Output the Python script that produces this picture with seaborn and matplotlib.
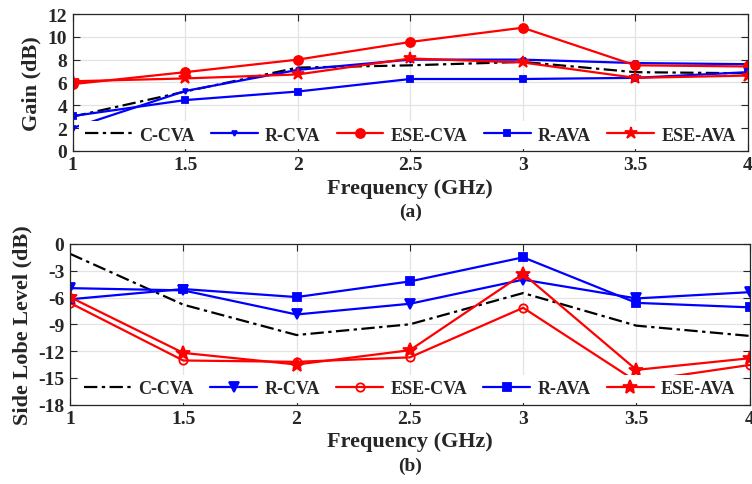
import numpy as np
import pandas as pd
import matplotlib
matplotlib.use("Agg")
import matplotlib.pyplot as plt
import seaborn as sns

# --- data ---
freq = [1, 1.5, 2, 2.5, 3, 3.5, 4]
freq_labels = ["1", "1.5", "2", "2.5", "3", "3.5", "4"]

gain_c_cva = [3.0, 5.2, 7.3, 7.5, 7.8, 6.9, 6.8]
gain_r_cva = [2.0, 5.25, 7.1, 8.0, 8.0, 7.7, 7.6]
gain_ese_cva = [5.85, 6.9, 8.0, 9.55, 10.8, 7.5, 7.4]
gain_r_ava = [3.05, 4.45, 5.2, 6.3, 6.3, 6.4, 6.9]
gain_ese_ava = [6.1, 6.35, 6.7, 8.1, 7.75, 6.4, 6.6]

sll_c_cva = [-1.1, -6.8, -10.2, -9.0, -5.5, -9.15, -10.3]
sll_r_cva = [-4.95, -5.2, -7.9, -6.7, -4.0, -6.1, -5.4]
sll_ese_cva = [-6.6, -13.05, -13.2, -12.7, -7.15, -15.4, -13.55]
sll_r_ava = [-6.2, -5.05, -5.95, -4.2, -1.5, -6.6, -7.1]
sll_ese_ava = [-5.95, -12.2, -13.5, -11.9, -3.35, -14.1, -12.8]

gain_ticks = [0, 2, 4, 6, 8, 10, 12]
sll_ticks = [0, -3, -6, -9, -12, -15, -18]

sns.set_theme(style="ticks")
plt.rcParams["font.family"] = ["Liberation Serif", "DejaVu Serif"]
plt.rcParams["font.weight"] = "bold"
plt.rcParams["axes.labelweight"] = "bold"
plt.rcParams["axes.unicode_minus"] = False

fig = plt.figure(figsize=(7.52, 4.85), dpi=100)
ax1 = fig.add_axes([0.0967, 0.687, 0.8976, 0.282])
ax2 = fig.add_axes([0.093, 0.1635, 0.904, 0.3315])

dashdot = (0, (6, 2, 1.5, 2))


def draw_series(ax, y, label, color, marker, ms, ls="-", mfc=None):
    sns.lineplot(x=freq, y=y, ax=ax, color=color, label=label,
                 linestyle=ls, linewidth=1.6, marker=marker, markersize=ms,
                 markeredgecolor=color,
                 markerfacecolor=color if mfc is None else mfc,
                 markeredgewidth=1.3)


# --- (a) Gain ---
draw_series(ax1, gain_c_cva, "C-CVA", "black", None, 0, ls=dashdot)
draw_series(ax1, gain_r_cva, "R-CVA", "#0000ff", "v", 3.5)
draw_series(ax1, gain_ese_cva, "ESE-CVA", "#ff0000", "o", 6.5)
draw_series(ax1, gain_r_ava, "R-AVA", "#0000ff", "s", 5)
draw_series(ax1, gain_ese_ava, "ESE-AVA", "#ff0000", "*", 9)

ax1.set_ylim(0, 12)
ax1.set_yticks(gain_ticks)
ax1.set_ylabel("Gain (dB)", fontsize=16, labelpad=4)

# --- (b) Side lobe level ---
draw_series(ax2, sll_c_cva, "C-CVA", "black", None, 0, ls=dashdot)
draw_series(ax2, sll_r_cva, "R-CVA", "#0000ff", "v", 7.5)
draw_series(ax2, sll_ese_cva, "ESE-CVA", "#ff0000", "o", 6, mfc="none")
draw_series(ax2, sll_r_ava, "R-AVA", "#0000ff", "s", 5.5)
draw_series(ax2, sll_ese_ava, "ESE-AVA", "#ff0000", "*", 10)

ax2.set_ylim(-18, 0)
ax2.set_yticks(sll_ticks)
ax2.set_ylabel("Side Lobe Level (dB)", fontsize=16, labelpad=4)

for ax, tag, tag_y in [(ax1, "(a)", -0.44), (ax2, "(b)", -0.38)]:
    ax.set_xlim(1, 4)
    ax.set_xticks(freq)
    ax.set_xticklabels(freq_labels)
    ax.set_xlabel("Frequency (GHz)", fontsize=16, labelpad=3)
    ax.grid(True, color="#e3e3e3", linewidth=0.9)
    ax.tick_params(direction="in", top=True, right=True, length=5,
                   width=0.8, labelsize=14, colors="#262626", pad=4)
    for sp in ax.spines.values():
        sp.set_color("#262626")
        sp.set_linewidth(0.9)
    ax.legend(loc="lower center", ncol=5, fontsize=13, frameon=True,
              facecolor="white", edgecolor="none", framealpha=1,
              handlelength=2.6, columnspacing=0.9, handletextpad=0.4,
              borderpad=0.3, borderaxespad=0.1)
    ax.text(0.5, tag_y, tag, transform=ax.transAxes,
            ha="center", va="center", fontsize=14, fontweight="bold")

fig.savefig("out.png", dpi=100)
